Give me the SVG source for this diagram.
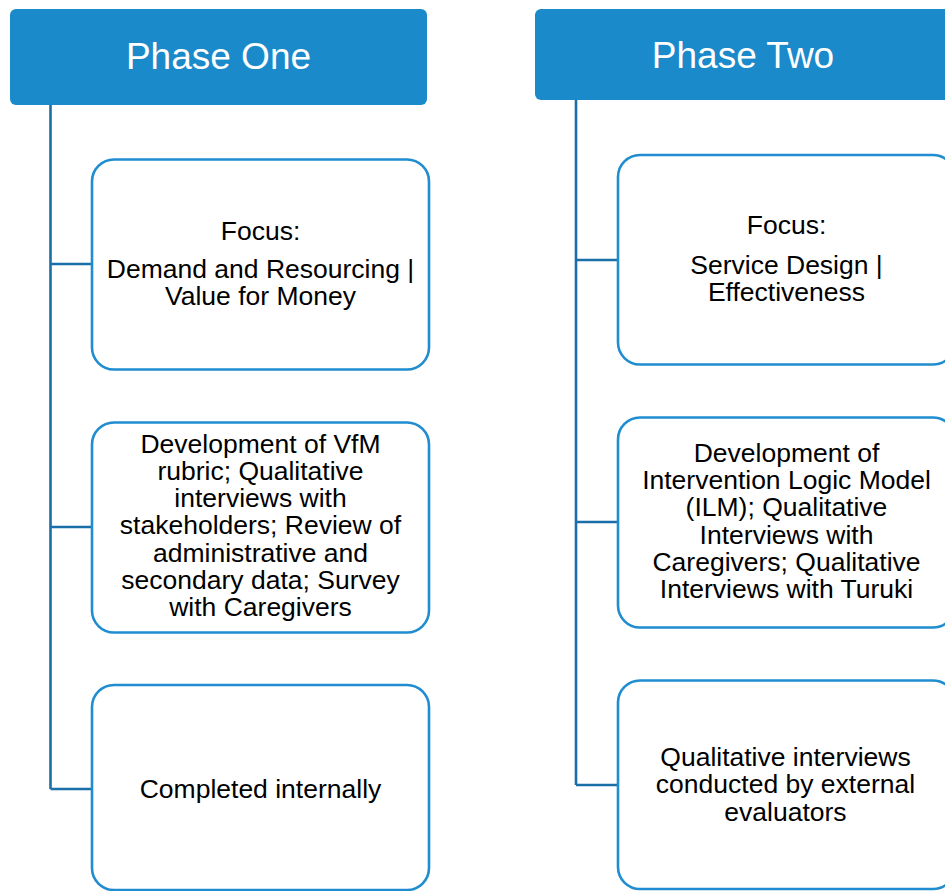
<svg xmlns="http://www.w3.org/2000/svg" width="945" height="891" viewBox="0 0 945 891">
  <style>
    .header { fill: #1a8acb; }
    .header-label { fill: #ffffff; font-family: "Liberation Sans", Arial, sans-serif; font-size: 37px; text-anchor: middle; }
    .card { fill: #ffffff; stroke: #1f8dd0; stroke-width: 2.6; }
    .card-label { fill: #000000; font-family: "Liberation Sans", Arial, sans-serif; font-size: 26.5px; text-anchor: middle; }
    .link { fill: none; stroke: #1a6fa8; stroke-width: 2.6; }
  </style>
  <rect width="945" height="891" fill="#ffffff"/>

  <!-- trunk and branch lines -->
  <g id="connectors">
    <path class="link" d="M50.5 105 V789 M50.5 264 H92 M50.5 527 H92 M50.5 789 H92"/>
    <path class="link" d="M576 100 V785 M576 260 H618 M576 522 H618 M576 785 H618"/>
  </g>

  <!-- Phase One column -->
  <g id="phase-one">
    <rect class="header" x="10" y="9" width="417" height="96" rx="6"/>
    <text class="header-label" x="218.5" y="69">Phase One</text>
  </g>
  <g id="p1-focus">
    <rect class="card" x="92" y="159.5" width="337" height="210" rx="22"/>
    <text class="card-label" x="260.5" y="240">Focus:</text>
    <text class="card-label" x="260.5" y="278">Demand and Resourcing |</text>
    <text class="card-label" x="260.5" y="305.3">Value for Money</text>
  </g>
  <g id="p1-methods">
    <rect class="card" x="92" y="422.5" width="337" height="210" rx="22"/>
    <text class="card-label" x="260.5" y="452.5">Development of VfM</text>
    <text class="card-label" x="260.5" y="479.8">rubric; Qualitative</text>
    <text class="card-label" x="260.5" y="507.1">interviews with</text>
    <text class="card-label" x="260.5" y="534.4">stakeholders; Review of</text>
    <text class="card-label" x="260.5" y="561.7">administrative and</text>
    <text class="card-label" x="260.5" y="589">secondary data; Survey</text>
    <text class="card-label" x="260.5" y="616.3">with Caregivers</text>
  </g>
  <g id="p1-delivery">
    <rect class="card" x="92" y="685" width="337" height="205" rx="22"/>
    <text class="card-label" x="260.5" y="797.7">Completed internally</text>
  </g>

  <!-- Phase Two column -->
  <g id="phase-two">
    <rect class="header" x="535" y="9" width="416" height="91" rx="6"/>
    <text class="header-label" x="743" y="67.5">Phase Two</text>
  </g>
  <g id="p2-focus">
    <rect class="card" x="618" y="155" width="337" height="209.5" rx="22"/>
    <text class="card-label" x="786.5" y="234">Focus:</text>
    <text class="card-label" x="786.5" y="274">Service Design |</text>
    <text class="card-label" x="786.5" y="301">Effectiveness</text>
  </g>
  <g id="p2-methods">
    <rect class="card" x="618" y="417.5" width="337" height="210" rx="22"/>
    <text class="card-label" x="786.5" y="461.7">Development of</text>
    <text class="card-label" x="786.5" y="489">Intervention Logic Model</text>
    <text class="card-label" x="786.5" y="516.3">(ILM); Qualitative</text>
    <text class="card-label" x="786.5" y="543.6">Interviews with</text>
    <text class="card-label" x="786.5" y="570.9">Caregivers; Qualitative</text>
    <text class="card-label" x="786.5" y="598.2">Interviews with Turuki</text>
  </g>
  <g id="p2-delivery">
    <rect class="card" x="618" y="680.5" width="337" height="208.5" rx="22"/>
    <text class="card-label" x="785.5" y="766">Qualitative interviews</text>
    <text class="card-label" x="785.5" y="793.3">conducted by external</text>
    <text class="card-label" x="785.5" y="820.6">evaluators</text>
  </g>
</svg>
